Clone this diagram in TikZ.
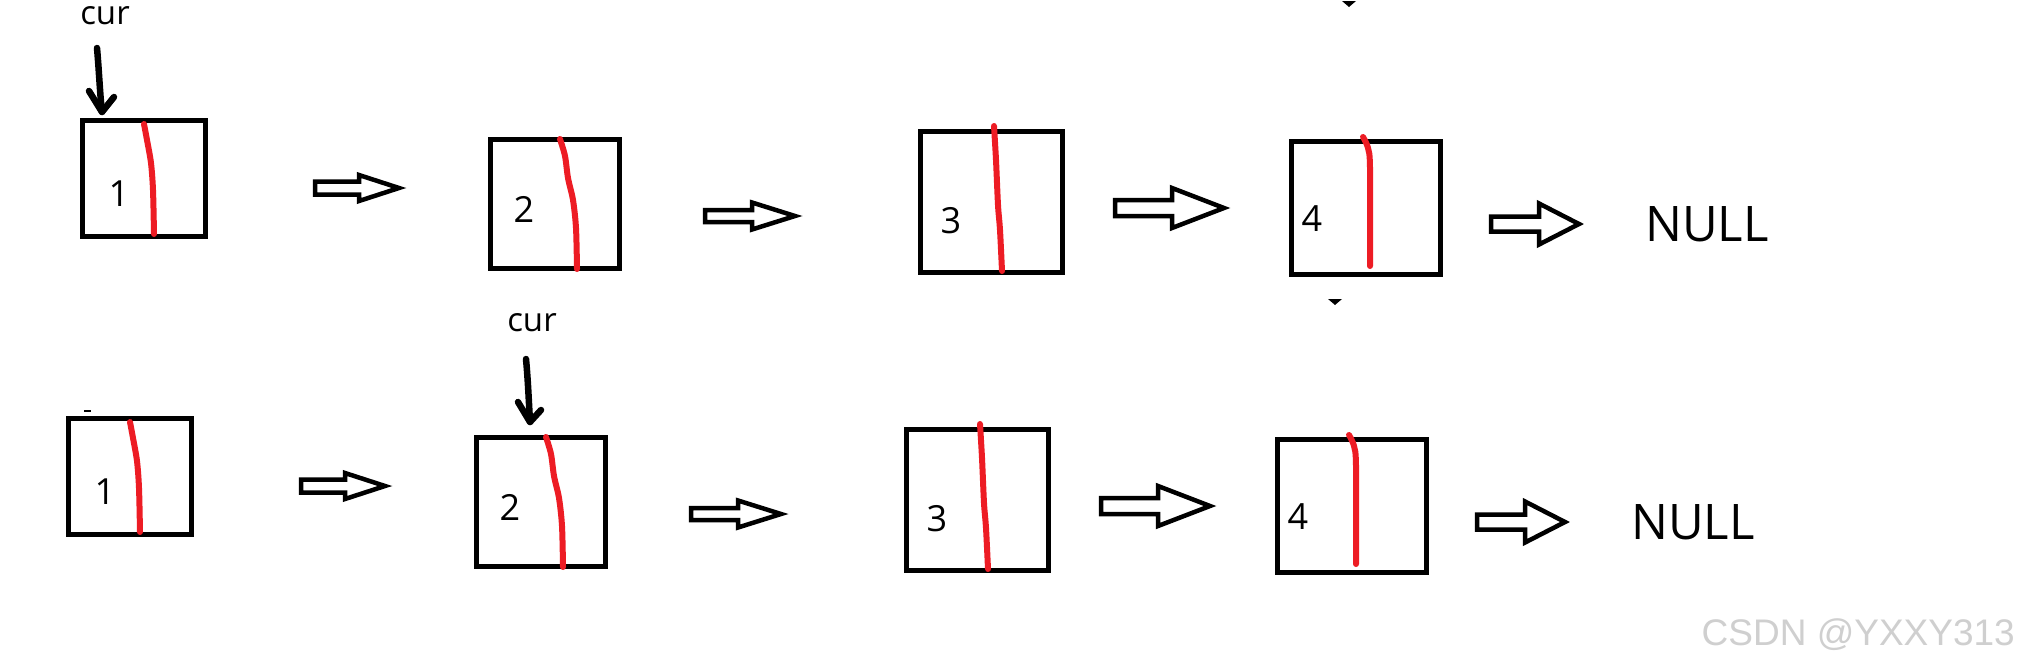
\documentclass[tikz,border=0pt]{standalone}
\usepackage{fontspec}
\setmainfont{Open Sans}
\newfontfamily\wmfont{Liberation Sans}
\definecolor{paintred}{HTML}{ED1C24}
\definecolor{wmgray}{HTML}{CFCFCF}
\tikzset{
  nodebox/.style={draw=black, line width=5pt, inner sep=0pt, rectangle},
  redline/.style={draw=paintred, line width=6pt, line cap=round, line join=round},
  digit/.style={inner sep=0pt, font=\fontsize{36pt}{40pt}\selectfont},
  nulltxt/.style={inner sep=0pt, font=\fontsize{49pt}{52pt}\selectfont},
  curtxt/.style={inner sep=0pt, font=\fontsize{33pt}{36pt}\selectfont},
  hollow/.style={draw=black, line width=4.5pt, fill=white, line join=miter},
  curarrow/.style={draw=black, line width=6.5pt, line cap=round, line join=round},
  wm/.style={inner sep=0pt, text=wmgray, font=\wmfont\fontsize{37pt}{40pt}\selectfont}
}
\newcommand{\hollowarrow}[6]{% x0, xh, x1, y, shaft half, head half
  \draw[hollow] (#1,#4-#5) -- (#2,#4-#5) -- (#2,#4-#6) -- (#3,#4) -- (#2,#4+#6) -- (#2,#4+#5) -- (#1,#4+#5) -- cycle;}
\newcommand{\linkrow}[1]{%
  \node[nodebox, minimum width=123pt, minimum height=116pt] (b1#1) at (144,178.5) {};
  \node[nodebox, minimum width=129pt, minimum height=129pt] (b2#1) at (555,204) {};
  \node[nodebox, minimum width=142pt, minimum height=141pt] (b3#1) at (991.5,202) {};
  \node[nodebox, minimum width=149pt, minimum height=133pt] (b4#1) at (1366,208) {};
  \draw[redline] plot[smooth] coordinates {(144,124) (147,140) (151,163) (153,190) (154,234)};
  \draw[redline] plot[smooth] coordinates {(560,139) (565,156) (568,178) (573,200) (576,228) (577,269)};
  \draw[redline] plot[smooth] coordinates {(994,126) (996,160) (998,205) (1000,230) (1002,271)};
  \draw[redline] plot[smooth] coordinates {(1363,137) (1368,148) (1370,168) (1370,266)};
  \node[digit, anchor=base] (l1#1) at (119,206) {1};
  \node[digit, anchor=base] (l2#1) at (524,222) {2};
  \node[digit, anchor=base] (l3#1) at (951,233) {3};
  \node[digit, anchor=base] (l4#1) at (1312,231) {4};
  \hollowarrow{315}{359}{399}{188}{6.5}{13}
  \hollowarrow{705}{752}{795}{216}{6}{13.5}
  \hollowarrow{1115}{1172}{1224}{208}{8}{20}
  \hollowarrow{1491}{1539}{1579}{224}{7.5}{20.5}
  \node[nulltxt, anchor=base] (null#1) at (1707,241) {NULL};
  \fill[black] (1342,1) -- (1356,1) -- (1349,7) -- cycle;
}
\begin{document}
\begin{tikzpicture}[x=1pt, y=-1pt]
  \useasboundingbox[fill=white] (0,0) rectangle (2020,667);
  % top row
  \linkrow{t}
  \node[curtxt, anchor=base] (curt) at (105,24) {cur};
  \coordinate (cst) at (97,48);
  \coordinate (cpt) at (102,112);
  \draw[curarrow] (cst) .. controls (99,70) and (100,95) .. (cpt);
  \draw[curarrow] (89,91) -- (cpt) -- (114,97);
  % bottom row
  \begin{scope}[shift={(-14,298)}]
    \linkrow{b}
  \end{scope}
  \draw[black, line width=2pt] (84,411) -- (91,411);
  \node[curtxt, anchor=base] (curb) at (532,331) {cur};
  \coordinate (csb) at (526,359);
  \coordinate (cpb) at (530,422);
  \draw[curarrow] (csb) .. controls (528,380) and (529,405) .. (cpb);
  \draw[curarrow] (518,402) -- (cpb) -- (541,410);
  % watermark
  \node[wm, anchor=base east] (wm) at (2015,645) {CSDN @YXXY313};
\end{tikzpicture}
\end{document}
